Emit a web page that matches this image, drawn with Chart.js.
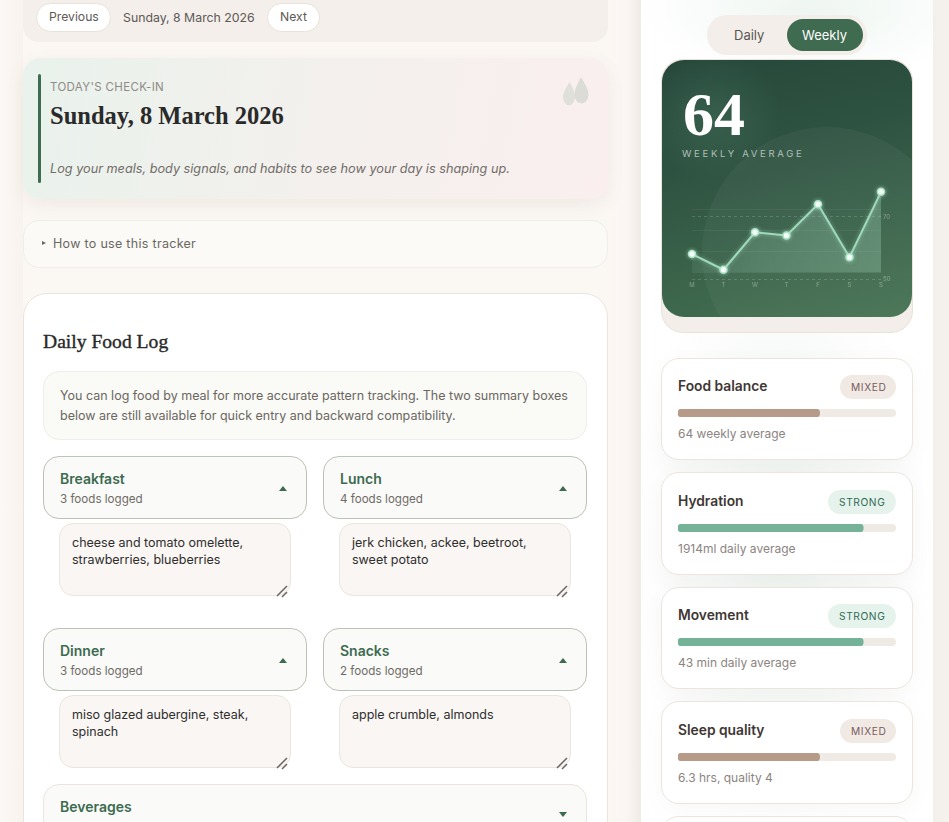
<!DOCTYPE html>
<html><head><meta charset="utf-8">
<script src="https://cdn.jsdelivr.net/npm/chart.js@4"></script>
<style>
*{box-sizing:border-box}
html,body{margin:0;width:949px;height:822px;overflow:hidden;background:#fbf7f3;font-family:Inter,sans-serif}
.a{position:absolute}
.t{position:absolute;white-space:nowrap;line-height:1;transform:translateY(-50%)}
.serif{font-family:"Liberation Serif",serif}
canvas{display:block}
</style></head><body>
<div id="root"></div>
<script>
const dayLabels=['M','T','W','T','F','S','S'];
const weeklyScores=[58,53,65,64,74,57,78];
const yTickValues=[50,70];
const faintGridValues=[52.2,58.9,65.6,72.2];
const metricNames=['Food balance','Hydration','Movement','Sleep quality'];
const metricBars=[65,85,85,65];
const metricStatus=['MIXED','STRONG','STRONG','MIXED'];
const metricNotes=['64 weekly average','1914ml daily average','43 min daily average','6.3 hrs, quality 4'];
const mealNames=['Breakfast','Lunch','Dinner','Snacks'];
const mealCounts=['3 foods logged','4 foods logged','3 foods logged','2 foods logged'];
const mealText=[['cheese and tomato omelette,','strawberries, blueberries'],['jerk chicken, ackee, beetroot,','sweet potato'],['miso glazed aubergine, steak,','spinach'],['apple crumble, almonds']];

const root=document.getElementById('root');
function box(x,y,w,h,css){const d=document.createElement('div');d.className='a';d.style.cssText=`left:${x}px;top:${y}px;width:${w}px;height:${h}px;`+(css||'');root.appendChild(d);return d;}
function text(s,x,y,css){const d=document.createElement('div');d.className='t';d.textContent=s;d.style.cssText=`left:${x}px;top:${y}px;`+(css||'');root.appendChild(d);return d;}
const BORDER='border:1px solid #ece5dd;';

// page background shading
box(0,0,23,822,'background:linear-gradient(90deg,#fcf8f5,#f8f3ee)');
box(607,0,34,822,'background:linear-gradient(90deg,#fbf7f3,#fbf6f3 55%,#efebe5)');
box(933,0,16,822,'background:linear-gradient(90deg,#f3f0eb,#f5f2ee)');
box(641,0,292,822,'background:radial-gradient(ellipse 170px 70px at 170px 10px,#eef6f1,rgba(255,255,255,0) 100%),#fff');
box(641,330,292,492,'background:radial-gradient(ellipse 150px 300px at 140px 210px,#eef3f0,rgba(255,255,255,0) 100%)');

// top nav
box(22.5,-20,585,62,'background:#f4efeb;border-radius:16px');
box(36,3,75,29,'background:#fff;border:1px solid #e9e2da;border-radius:15px');
text('Previous',49,17,'font-size:12.2px;color:#5d5955');
text('Sunday, 8 March 2026',123,17.5,'font-size:12.3px;color:#5d5955');
box(267,3,53,29,'background:#fff;border:1px solid #e9e2da;border-radius:15px');
text('Next',280,17,'font-size:12.2px;color:#5d5955');

// check-in card
box(22.5,58,585,141,'background:linear-gradient(100deg,#e9f2ec,#f3f0ed 50%,#faefee);border-radius:18px;box-shadow:0 6px 18px rgba(120,100,80,.09)');
box(38,74,3,109,'background:#3f6b50;border-radius:2px');
text("TODAY'S CHECK-IN",50,87.5,'font-size:11.5px;letter-spacing:.35px;color:#8f8a85');
text('Sunday, 8 March 2026',50,115.5,'font-size:24.5px;font-weight:bold;color:#2a2a2a').classList.add('serif');
text('Log your meals, body signals, and habits to see how your day is shaping up.',50,169,'font-size:12.7px;font-style:italic;color:#716d68');
const drops=box(561,76,32,31,'');
drops.innerHTML='<svg width="32" height="31" viewBox="0 0 32 31"><path d="M8.500 6 C12 12 14 16 14 21 A6 8.500 0 0 1 2 21 C2 16 5 12 8.500 6Z" fill="#e0e0db"/><path d="M20 1 C24 8 27.500 13 27.500 19 A7 8.500 0 0 1 13.500 19 C13.500 13 16.500 8 20 1Z" fill="#dcdcd7"/></svg>';

// how-to
box(22.5,219.500,585,48,'background:#fbfaf7;border:1px solid #f1eee8;border-radius:16px');
box(42,241,0,0,'border-left:4px solid #6b675f;border-top:2.500px solid transparent;border-bottom:2.500px solid transparent');
text('How to use this tracker',53,244,'font-size:12.5px;letter-spacing:.3px;color:#6b675f');

// food log card
box(22.5,292.500,585,560,'background:#fff;'+BORDER+'border-radius:24px');
text('Daily Food Log',43,342,'font-size:19.6px;color:#2a2a2a;-webkit-text-stroke:.4px #2a2a2a').classList.add('serif');
box(43,371,544,68.500,'background:#fafaf7;border:1px solid #f1eee8;border-radius:16px');
text('You can log food by meal for more accurate pattern tracking. The two summary boxes',60,396,'font-size:12.5px;color:#6b675f');
text('below are still available for quick entry and backward compatibility.',60,416,'font-size:12.5px;color:#6b675f');

mealNames.forEach((name,i)=>{
  const x=i%2?323:43,y=i<2?456:628;
  box(x,y,264,63,'background:#fafaf8;border:1px solid #bac3b6;border-radius:16px');
  text(name,x+17,y+22.5,'font-size:14px;font-weight:600;color:#3c6b50');
  text(mealCounts[i],x+17,y+43.5,'font-size:11.6px;color:#6f6b66');
  box(x+236,y+29.5,0,0,'border-bottom:5.5px solid #3c6b50;border-left:4px solid transparent;border-right:4px solid transparent');
  box(x+16,y+67,232,73,'background:#f9f6f3;border:1px solid #ebe5de;border-radius:14px');
  mealText[i].forEach((l,j)=>text(l,x+29,y+86.5+j*17.500,'font-size:12.5px;color:#2e2e2e'));
  const g=box(x+233,y+127,14,14,'');
  g.innerHTML='<svg width="14" height="14"><path d="M1 11 L11 1 M6 12 L11 7" stroke="#6a6662" stroke-width="1.500" fill="none"/></svg>';
});
box(43,784,544,60,'background:#fafaf8;'+BORDER+'border-radius:16px');
text('Beverages',60,806.5,'font-size:14px;font-weight:600;color:#3c6b50');
box(559,811.5,0,0,'border-top:5.5px solid #3c6b50;border-left:4px solid transparent;border-right:4px solid transparent');

// toggle
box(707,15,160,40,'background:#f3eeea;border-radius:20px');
box(787,19,76,32,'background:#3f6b50;border-radius:16px');
text('Daily',734,35,'font-size:13px;color:#5b5651');
text('Weekly',802,35,'font-size:13px;color:#fff');

// score card
box(661,59,252,274,'background:#f3eeea;border:1px solid #ebe3da;border-radius:22px');
const sc=box(662,60,250,257,'background:linear-gradient(165deg,#25473a 0%,#2e5241 35%,#467353 100%);border-radius:22px;overflow:hidden');
sc.innerHTML='<div style="position:absolute;left:40px;top:67px;width:250px;height:250px;border-radius:50%;background:rgba(255,255,255,.04)"></div><div style="position:absolute;left:-20px;top:-10px;width:140px;height:130px;border-radius:50%;background:radial-gradient(closest-side,rgba(160,230,190,.11),rgba(160,230,190,0))"></div>';
text('64',683,114,'font-size:62px;font-weight:bold;color:#fff').classList.add('serif');
text('WEEKLY AVERAGE',682,153.5,'font-size:9.5px;color:rgba(255,255,255,.62);letter-spacing:2.700px');

// chart
const holder=box(680,180,220,115,'');
const cv=document.createElement('canvas');cv.width=220;cv.height=115;holder.appendChild(cv);
const glow={id:'glow',
  beforeDatasetsDraw(c){c.ctx.save();c.ctx.shadowColor='rgba(190,240,215,.5)';c.ctx.shadowBlur=4;},
  afterDatasetsDraw(c){c.ctx.restore();}};
new Chart(cv,{type:'line',
  data:{labels:dayLabels,datasets:[{data:weeklyScores,borderColor:'#9fdcbb',borderWidth:2,tension:0,clip:false,
    pointRadius:3.5,pointBorderWidth:1.500,pointBackgroundColor:'#fff',pointBorderColor:'#a9e2c4',
    fill:{value:52.2},
    backgroundColor(ctx){const a=ctx.chart.chartArea;if(!a)return 'transparent';
      const g=ctx.chart.ctx.createLinearGradient(a.left,0,a.right,0);
      g.addColorStop(0,'rgba(190,240,215,.08)');g.addColorStop(.35,'rgba(190,240,215,.17)');g.addColorStop(1,'rgba(190,240,215,.25)');return g;}
  }]},
  options:{responsive:false,animation:false,events:[],
    layout:{padding:{left:12,right:0,top:4.500,bottom:0}},
    plugins:{legend:{display:false},tooltip:{enabled:false},filler:{drawTime:'beforeDatasetsDraw'}},
    scales:{
      x:{offset:false,border:{display:false},grid:{display:false,drawTicks:false,tickLength:0},
        ticks:{color:'rgba(255,255,255,.36)',font:{size:6,family:'Inter'},padding:3,maxRotation:0,autoSkip:false},
        afterFit(s){s.height=16;}},
      y:{position:'right',min:50,max:80,border:{display:false,dash:[3,3]},
        afterBuildTicks(s){s.ticks=yTickValues.map(v=>({value:v}));},
        grid:{color:'rgba(255,255,255,.17)',tickLength:0,drawTicks:false},
        ticks:{color:'rgba(255,255,255,.36)',font:{size:6,family:'Inter'},padding:2},
        afterFit(s){s.width=19;}},
      y2:{display:true,position:'left',min:50,max:80,border:{display:false},
        afterBuildTicks(s){s.ticks=faintGridValues.map(v=>({value:v}));},
        grid:{color:'rgba(255,255,255,.055)',drawTicks:false},
        ticks:{display:false},afterFit(s){s.width=0;}}
    }},
  plugins:[glow]});

// metric cards
const statusStyle={MIXED:['#f1eae4','#7a5a60',56],STRONG:['#e6f3ec','#2f6a54',68]};
const barColor={MIXED:'#b69c88',STRONG:'#74b398'};
metricNames.forEach((name,i)=>{
  const y=358+Math.round(i*114.500-.01), d=i%2;
  box(661,y,252,i%2?103:102,'background:#fff;'+BORDER+'border-radius:18px;box-shadow:0 6px 20px rgba(110,120,100,.05)');
  text(name,678,y+28.5+d,'font-size:13.8px;font-weight:600;color:#3f3733');
  const st=statusStyle[metricStatus[i]];
  box(896-st[2],y+17+d,st[2],24,`background:${st[0]};border-radius:12px`);
  text(metricStatus[i],896-st[2]+11,y+28.5+d,`font-size:10.2px;letter-spacing:.6px;color:${st[1]}`);
  const track=box(678,y+51+d,218,8,'background:#f0eae4;border-radius:4px');
  const c=document.createElement('canvas');c.width=218;c.height=8;track.appendChild(c);
  new Chart(c,{type:'bar',data:{labels:[name],datasets:[{data:[metricBars[i]],backgroundColor:barColor[metricStatus[i]],borderRadius:4,borderSkipped:false,barPercentage:1,categoryPercentage:1}]},
    options:{indexAxis:'y',responsive:false,animation:false,events:[],layout:{padding:0},
      plugins:{legend:{display:false},tooltip:{enabled:false}},
      scales:{x:{display:false,min:0,max:100},y:{display:false}}}});
  text(metricNotes[i],678,y+76+d,'font-size:12px;color:#8b8480');
});
box(661,816,252,40,'background:#fff;'+BORDER+'border-radius:18px');
</script>
</body></html>
